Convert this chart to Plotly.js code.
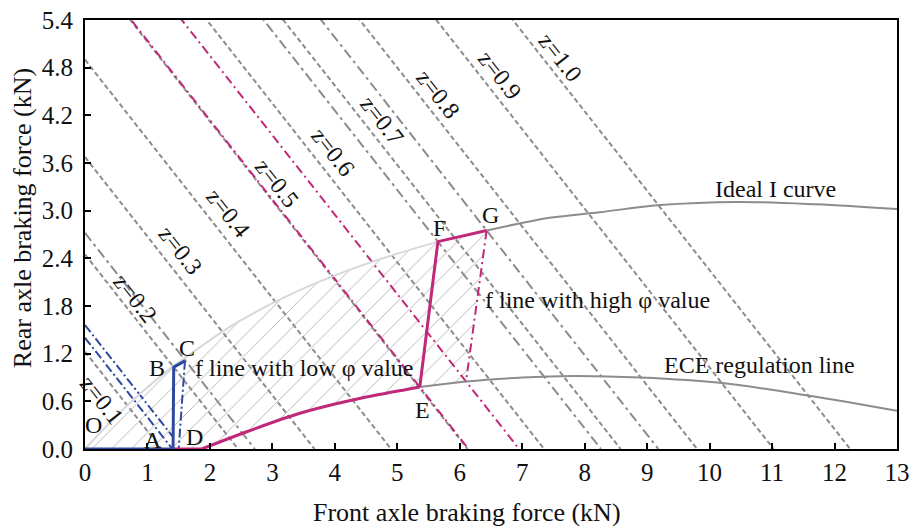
<!DOCTYPE html>
<html>
<head>
<meta charset="utf-8">
<script src="https://cdn.plot.ly/plotly-3.0.1.min.js"></script>
<style>html,body{margin:0;padding:0;background:#fff;}#chart{width:912px;height:527px;}</style>
</head>
<body>
<div id="chart"></div>
<script>
// ---- data ----
const zValues = [0.1, 0.2, 0.3, 0.4, 0.5, 0.6, 0.7, 0.8, 0.9, 1.0];
const zIntercepts = [1.225, 2.45, 3.675, 4.9, 6.125, 7.35, 8.575, 9.8, 11.025, 12.25]; // F1 + F2 = zG
const zLabelX = [0.27, 0.80, 1.52, 2.29, 3.07, 3.97, 4.75, 5.65, 6.64, 7.60];
const zLabelY = [0.62, 1.90, 2.50, 2.97, 3.35, 3.74, 4.14, 4.47, 4.71, 4.93];

const grayLongIntercepts = [2.72, 8.26, 9.18];     // lines through C, F, G
const magentaIntercepts = [6.14, 6.95];            // high phi f lines
const blueIntercepts = [1.56, 1.40];               // low phi f lines
const blueLineEndX = 1.40;

const iLowX = [0, 0.68, 1.41, 1.57, 2.41, 3.41, 4.5, 5.65];
const iLowY = [0, 0.55, 1.04, 1.13, 1.58, 1.99, 2.33, 2.61];
const iHighX = [6.43, 7.44, 8.24, 9.2, 10.43, 11.7, 13];
const iHighY = [2.75, 2.91, 2.98, 3.07, 3.11, 3.08, 3.02];

const eceLowX = [1.87, 2.6, 3.44, 4.3, 5.15, 5.36];
const eceLowY = [0, 0.22, 0.45, 0.62, 0.75, 0.78];
const eceHighX = [5.36, 6.1, 7.0, 7.8, 8.9, 10.2, 11.6, 13];
const eceHighY = [0.78, 0.85, 0.90, 0.92, 0.90, 0.83, 0.67, 0.48];

const ptNames = ['O', 'A', 'B', 'C', 'D', 'E', 'F', 'G'];
const ptX = [0, 1.41, 1.42, 1.60, 1.87, 5.36, 5.65, 6.43];
const ptY = [0, 0, 1.03, 1.11, 0, 0.78, 2.61, 2.75];
const ptLabelX = [0.13, 1.09, 1.15, 1.63, 1.76, 5.40, 5.67, 6.49];
const ptLabelY = [0.30, 0.11, 1.02, 1.27, 0.15, 0.49, 2.78, 2.95];

const blueDropEnd = [1.50, 0];      // C -> x axis
const magentaDropEnd = [6.10, 0.85]; // G -> ECE line

const noteTexts = ['f line with low φ value', 'f line with high φ value', 'ECE regulation line', 'Ideal I curve'];
const noteX = [1.73, 6.37, 9.23, 10.05];
const noteY = [1.02, 1.88, 1.06, 3.27];

const xTitle = 'Front axle braking force (kN)';
const yTitle = 'Rear axle braking force (kN)';

// ---- styles ----
const GRAY = '#8c8c8c', LIGHT = '#d8d8d8', MAG = '#c0287a', BLUE = '#2f49a0';
const FONT = 'Liberation Serif, Times New Roman, serif';

const traces = [];

// hatched feasible region
const hx = [].concat(iLowX, [iHighX[0], magentaDropEnd[0]], eceLowX.slice().reverse(), [0]);
const hy = [].concat(iLowY, [iHighY[0], magentaDropEnd[1]], eceLowY.slice().reverse(), [0]);
traces.push({x: hx, y: hy, mode: 'lines', fill: 'toself', line: {width: 0, color: 'rgba(0,0,0,0)'},
  fillcolor: 'rgba(0,0,0,0)', fillpattern: {shape: '/', size: 14, solidity: 0.07, fgcolor: '#b8b8b8'},
  hoverinfo: 'skip'});

// z lines
zIntercepts.forEach(c => traces.push({x: [0, c], y: [c, 0], mode: 'lines',
  line: {color: GRAY, width: 2, dash: '5px,3px'}, hoverinfo: 'skip'}));
grayLongIntercepts.forEach(c => traces.push({x: [0, c], y: [c, 0], mode: 'lines',
  line: {color: GRAY, width: 2, dash: '10px,4px,3px,4px'}, hoverinfo: 'skip'}));
magentaIntercepts.forEach(c => traces.push({x: [0, c], y: [c, 0], mode: 'lines',
  line: {color: MAG, width: 2, dash: '9px,4px,2px,4px'}, hoverinfo: 'skip'}));
blueIntercepts.forEach(c => traces.push({x: [0, blueLineEndX], y: [c, c - blueLineEndX], mode: 'lines',
  line: {color: BLUE, width: 2, dash: '9px,3px,2px,3px'}, hoverinfo: 'skip'}));

// I curve and ECE line
traces.push({x: iLowX, y: iLowY, mode: 'lines', line: {color: LIGHT, width: 2, shape: 'spline'}});
traces.push({x: iHighX, y: iHighY, mode: 'lines', line: {color: GRAY, width: 2, shape: 'spline'}});
traces.push({x: eceHighX, y: eceHighY, mode: 'lines', line: {color: GRAY, width: 2, shape: 'spline'}});

// dropping dash-dot lines
traces.push({x: [ptX[3], blueDropEnd[0]], y: [ptY[3], blueDropEnd[1]], mode: 'lines',
  line: {color: BLUE, width: 2, dash: '9px,3px,2px,3px'}});
traces.push({x: [ptX[7], magentaDropEnd[0]], y: [ptY[7], magentaDropEnd[1]], mode: 'lines',
  line: {color: MAG, width: 2, dash: '9px,4px,2px,4px'}});

// magenta solid path A -> D, ECE curve D -> E, E -> F -> G
traces.push({x: [ptX[1], ptX[4]], y: [ptY[1], ptY[4]], mode: 'lines', line: {color: MAG, width: 3}});
traces.push({x: eceLowX, y: eceLowY, mode: 'lines', line: {color: MAG, width: 3, shape: 'spline'}});
traces.push({x: ptX.slice(5), y: ptY.slice(5), mode: 'lines', line: {color: MAG, width: 3}});
// blue solid path O -> A -> B -> C
traces.push({x: ptX.slice(0, 4), y: ptY.slice(0, 4), mode: 'lines', line: {color: BLUE, width: 3}});

const annotations = [];
zValues.forEach((z, i) => annotations.push({x: zLabelX[i], y: zLabelY[i], text: 'z=' + z.toFixed(1),
  showarrow: false, textangle: 51.8, font: {family: FONT, size: 24, color: '#111'}}));
ptNames.forEach((n, i) => annotations.push({x: ptLabelX[i], y: ptLabelY[i], text: n, showarrow: false,
  font: {family: FONT, size: 24, color: '#111'}}));
noteTexts.forEach((t, i) => annotations.push({x: noteX[i], y: noteY[i], text: t, showarrow: false,
  xanchor: 'left', font: {family: FONT, size: 24, color: '#111'}}));
// axis titles
annotations.push({xref: 'paper', yref: 'paper', x: 0.4704, y: -0.147, xanchor: 'center', yanchor: 'middle',
  text: xTitle, showarrow: false, font: {family: FONT, size: 26, color: '#111'}});
annotations.push({xref: 'paper', yref: 'paper', x: -0.0776, y: 0.538, xanchor: 'center', yanchor: 'middle',
  text: yTitle, textangle: -90, showarrow: false, font: {family: FONT, size: 26, color: '#111'}});

const axisCommon = {showgrid: false, zeroline: false, showline: true, mirror: true, linecolor: '#000',
  linewidth: 2, ticks: 'inside', ticklen: 6, tickwidth: 2, tickcolor: '#000',
  tickfont: {family: FONT, size: 25, color: '#111'}};

const layout = {
  width: 912, height: 527, margin: {l: 85, r: 15, t: 20, b: 78},
  paper_bgcolor: '#fff', plot_bgcolor: '#fff', showlegend: false,
  xaxis: Object.assign({}, axisCommon, {range: [0, 13], dtick: 1, tick0: 0}),
  yaxis: Object.assign({}, axisCommon, {range: [0, 5.4], dtick: 0.6, tick0: 0, tickformat: '.1f',
    ticklabelstandoff: 5}),
  annotations: annotations
};

Plotly.newPlot('chart', traces, layout, {displayModeBar: false, staticPlot: true});
</script>
</body>
</html>
